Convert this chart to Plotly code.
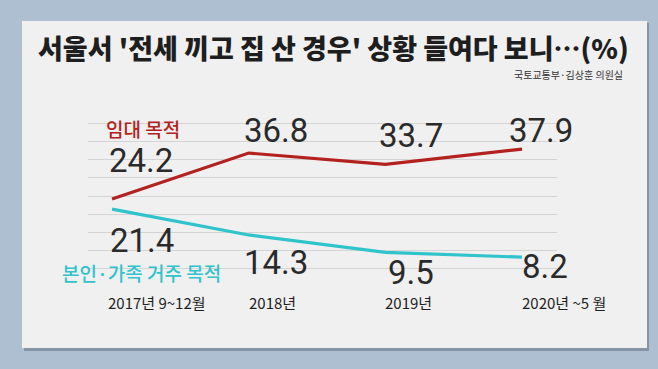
import plotly.graph_objects as go

# ---- data ----
categories = ["2017년 9~12월", "2018년", "2019년", "2020년 ~5 월"]
rent_purpose = [24.2, 36.8, 33.7, 37.9]      # 임대 목적
own_purpose = [21.4, 14.3, 9.5, 8.2]         # 본인·가족 거주 목적
series_names = ["임대 목적", "본인·가족 거주 목적"]
title_text = "서울서 '전세 끼고 집 산 경우' 상황 들여다 보니…(%)"
source_text = "국토교통부·김상훈 의원실"

# ---- style ----
W, H = 658, 369
L, R, T, B = 88, 101, 105, 82
RED = "#b3221e"
CYAN = "#2fc3cb"
NUM_FONT = "Roboto, sans-serif"
KR_FONT = "Noto Sans CJK KR, sans-serif"
xs = list(range(len(categories)))

# label pixel offsets (style only)
rent_shift = [(29, 38), (27, 23), (26, 29), (19, 19)]
own_shift = [(30, -31), (27, -28), (26, -20), (23, -9)]

fig = go.Figure()
fig.add_trace(go.Scatter(x=xs, y=rent_purpose, mode="lines",
                         line=dict(color=RED, width=3.2), name=series_names[0],
                         hoverinfo="skip"))
fig.add_trace(go.Scatter(x=xs, y=own_purpose, mode="lines",
                         line=dict(color=CYAN, width=3.2), name=series_names[1],
                         hoverinfo="skip"))

ann = []
for vals, shifts in ((rent_purpose, rent_shift), (own_purpose, own_shift)):
    for i, v in enumerate(vals):
        dx, dy = shifts[i]
        ann.append(dict(x=xs[i], y=v, xref="x", yref="y", text=f"{v:.1f}",
                        showarrow=False, xshift=dx, yshift=dy,
                        font=dict(family=NUM_FONT, size=33, color="#2a2a2a")))

# series labels
ann.append(dict(x=xs[0], y=rent_purpose[0], xref="x", yref="y", text=series_names[0],
                showarrow=False, xshift=31, yshift=70,
                font=dict(family=KR_FONT, size=19, color=RED, weight=500)))
ann.append(dict(x=xs[0], y=own_purpose[0], xref="x", yref="y", text=series_names[1],
                showarrow=False, xshift=29, yshift=-63,
                font=dict(family=KR_FONT, size=19, color=CYAN, weight=500)))

# category labels (left aligned at each point)
for i, c in enumerate(categories):
    ann.append(dict(x=xs[i], y=0, xref="x", yref="y", text=c, showarrow=False,
                    xanchor="left", xshift=-6 if i == 0 else -2, yshift=-15,
                    font=dict(family=KR_FONT, size=15, color="#1e1e1e")))

pw, ph = W - L - R, H - T - B
def px(x):
    return (x - L) / pw
def py(y):
    return (H - B - y) / ph

# title & source
ann.append(dict(x=px(333), y=py(47), xref="paper", yref="paper", text=title_text,
                showarrow=False, xanchor="center", yanchor="middle",
                font=dict(family=KR_FONT, size=27, color="#1e1e1e", weight=900)))
ann.append(dict(x=px(625), y=py(75), xref="paper", yref="paper", text=source_text,
                showarrow=False, xanchor="right", yanchor="middle",
                font=dict(family=KR_FONT, size=10, color="#333333")))

shapes = [
    dict(type="rect", xref="paper", yref="paper", x0=px(24), x1=px(649),
         y0=py(351), y1=py(23), fillcolor="rgba(60,70,85,0.35)", line_width=0,
         layer="below"),
    dict(type="rect", xref="paper", yref="paper", x0=px(22), x1=px(647),
         y0=py(348), y1=py(21), fillcolor="#f0f0f0", line_width=0,
         layer="below"),
]

fig.update_layout(
    width=W, height=H,
    margin=dict(l=L, r=R, t=T, b=B),
    paper_bgcolor="#adbfd0",
    plot_bgcolor="rgba(0,0,0,0)",
    showlegend=False,
    annotations=ann,
    shapes=shapes,
    xaxis=dict(range=[-0.176, 3.256], showgrid=False, zeroline=False,
               showticklabels=False, showline=False, ticks=""),
    yaxis=dict(range=[0, 50], dtick=5, showgrid=True, gridcolor="#d4d4d4",
               gridwidth=1, zeroline=False, showticklabels=False,
               showline=False, ticks=""),
)

fig.write_html("out.html", config={"displayModeBar": False},
               post_script="document.body.style.margin='0';document.body.style.overflow='hidden';")
